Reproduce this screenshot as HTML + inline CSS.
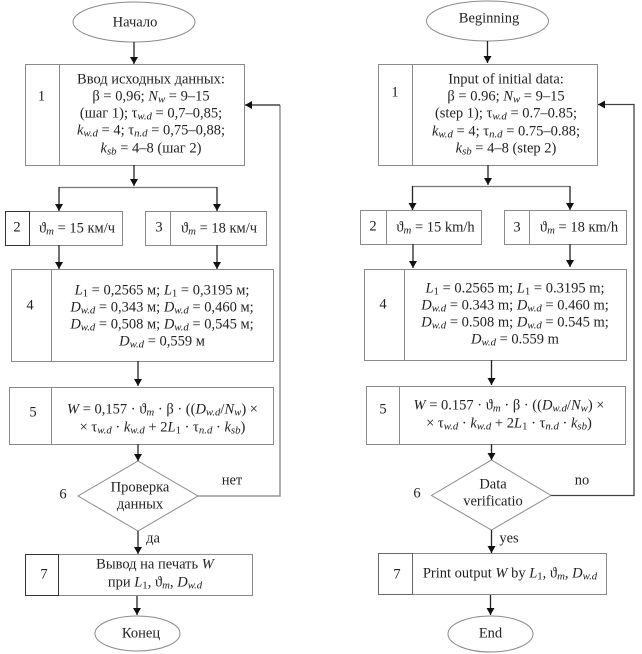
<!DOCTYPE html>
<html><head><meta charset="utf-8">
<style>
html,body{margin:0;padding:0;background:#fff}
#p{position:relative;width:642px;height:654px;overflow:hidden;background:#fff;font-family:"Liberation Serif",serif;font-size:14.5px;color:#222}
svg{position:absolute;left:0;top:0}
.t{position:absolute;transform:translate(-50%,-50%);white-space:nowrap;line-height:17px}
.t sub{font-size:10.8px;line-height:0;vertical-align:-2px;font-style:italic}
.t i{font-style:italic}
</style></head><body>
<div id="p">
<svg width="642" height="654" viewBox="0 0 642 654">
<defs>
<marker id="a" markerWidth="7" markerHeight="8" refX="7" refY="4" orient="auto" markerUnits="userSpaceOnUse"><path d="M0 0L7 4L0 8z" fill="#111"/></marker>
</defs>
<g fill="#fff" stroke="#8a8a8a" stroke-width="1">
<ellipse cx="134" cy="22" rx="61" ry="20"/>
<rect x="25.5" y="64.5" width="219" height="101"/><path d="M59.5 64.5V165.5"/>
<rect x="5.5" y="211.5" width="117" height="34"/>
<rect x="145.5" y="211.5" width="121" height="34"/><path d="M170.5 211.5V245.5"/>
<rect x="11.5" y="269.5" width="262" height="92"/><path d="M51.5 269.5V361.5"/>
<rect x="9.5" y="387.5" width="264" height="57"/><path d="M51.5 387.5V444.5"/>
<path d="M138 461L198 496L138 531L78 496z"/>
<rect x="25.5" y="554.5" width="227" height="41"/>
<ellipse cx="137.5" cy="633.5" rx="42.5" ry="17.5"/>

<ellipse cx="487.5" cy="21" rx="61" ry="20"/>
<rect x="378.5" y="64.5" width="219" height="101"/><path d="M412.5 64.5V165.5"/>
<rect x="360.5" y="210.5" width="121" height="34"/><path d="M386.5 210.5V244.5"/>
<rect x="504.5" y="210.5" width="122" height="34"/><path d="M529.5 210.5V244.5"/>
<rect x="364.5" y="269.5" width="262" height="91"/><path d="M404.5 269.5V360.5"/>
<rect x="366.5" y="386.5" width="259" height="58"/><path d="M399.5 386.5V444.5"/>
<path d="M491.5 460L551 495.5L491.5 530L431.5 495.5z"/>
<rect x="378.5" y="553.5" width="228" height="41"/>
<ellipse cx="490.5" cy="634" rx="42.5" ry="18"/>
</g>
<g fill="none" stroke="#333" stroke-width="1">
<rect x="5.5" y="211.5" width="24" height="34"/>
<rect x="25.5" y="554.5" width="33" height="41"/>
<path d="M378.5 553.5H412.5V594.5H378.5z" stroke="#666"/>
</g>
<g fill="none" stroke="#222" stroke-width="1.3">
<path d="M134 42V64" marker-end="url(#a)"/>
<path d="M134 165V186" marker-end="url(#a)"/>
<path d="M59 187.5H217" stroke="#777"/>
<path d="M59 187V211" marker-end="url(#a)"/>
<path d="M217 187V211" marker-end="url(#a)"/>
<path d="M59 245V269" marker-end="url(#a)"/>
<path d="M217 245V269" marker-end="url(#a)"/>
<path d="M138 361V386" marker-end="url(#a)"/>
<path d="M138 444V461" marker-end="url(#a)"/>
<path d="M138 531V554" marker-end="url(#a)"/>
<path d="M137 596V615" marker-end="url(#a)"/>
<path d="M198 496H280V105" stroke="#999" stroke-width="1.6"/>
<path d="M280 105H245" marker-end="url(#a)"/>

<path d="M487.5 41V63" marker-end="url(#a)"/>
<path d="M488 165V185" marker-end="url(#a)"/>
<path d="M412 186.5H570" stroke="#777"/>
<path d="M412.5 186V210" marker-end="url(#a)"/>
<path d="M570 186V210" marker-end="url(#a)"/>
<path d="M413 244V268" marker-end="url(#a)"/>
<path d="M570 244V267" marker-end="url(#a)"/>
<path d="M491.5 360V385" marker-end="url(#a)"/>
<path d="M491.5 444V460" marker-end="url(#a)"/>
<path d="M491.5 530V553" marker-end="url(#a)"/>
<path d="M490.5 595V615" marker-end="url(#a)"/>
<path d="M551 495.5H634V104.5H598" stroke="#444" marker-end="url(#a)"/>
</g>
</svg>

<div class="t" style="left:135px;top:23px">Начало</div>
<div class="t" style="left:41.5px;top:97px">1</div>
<div class="t" style="left:151px;top:80px">Ввод исходных данных:</div>
<div class="t" style="left:151px;top:97px">β = 0,96; <i>N<sub>w</sub></i> = 9–15</div>
<div class="t" style="left:151px;top:114px">(шаг 1); τ<sub>w.d</sub> = 0,7–0,85;</div>
<div class="t" style="left:151px;top:131px"><i>k<sub>w.d</sub></i> = 4; τ<sub>n.d</sub> = 0,75–0,88;</div>
<div class="t" style="left:151px;top:149px"><i>k<sub>sb</sub></i> = 4–8 (шаг 2)</div>
<div class="t" style="left:17px;top:228px">2</div>
<div class="t" style="left:77px;top:229px">ϑ<sub>m</sub> = 15 км/ч</div>
<div class="t" style="left:159px;top:228px">3</div>
<div class="t" style="left:219px;top:229px">ϑ<sub>m</sub> = 18 км/ч</div>
<div class="t" style="left:30px;top:306px">4</div>
<div class="t" style="left:162px;top:291px"><i>L</i><sub style="font-style:normal">1</sub> = 0,2565 м; <i>L</i><sub style="font-style:normal">1</sub> = 0,3195 м;</div>
<div class="t" style="left:162px;top:308px"><i>D<sub>w.d</sub></i> = 0,343 м; <i>D<sub>w.d</sub></i> = 0,460 м;</div>
<div class="t" style="left:162px;top:325px"><i>D<sub>w.d</sub></i> = 0,508 м; <i>D<sub>w.d</sub></i> = 0,545 м;</div>
<div class="t" style="left:162px;top:342px"><i>D<sub>w.d</sub></i> = 0,559 м</div>
<div class="t" style="left:33px;top:413px">5</div>
<div class="t" style="left:162.5px;top:410px"><i>W</i> = 0,157 · ϑ<sub>m</sub> · β · ((<i>D<sub>w.d</sub></i>/<i>N<sub>w</sub></i>) ×</div>
<div class="t" style="left:162.5px;top:428px">× τ<sub>w.d</sub> · <i>k<sub>w.d</sub></i> + 2<i>L</i><sub style="font-style:normal">1</sub> · τ<sub>n.d</sub> · <i>k<sub>sb</sub></i>)</div>
<div class="t" style="left:63px;top:495px">6</div>
<div class="t" style="left:140px;top:488px">Проверка</div>
<div class="t" style="left:140px;top:505px">данных</div>
<div class="t" style="left:232px;top:481px">нет</div>
<div class="t" style="left:153px;top:539px">да</div>
<div class="t" style="left:44px;top:575px">7</div>
<div class="t" style="left:155px;top:565px">Вывод на печать <i>W</i></div>
<div class="t" style="left:155px;top:583px">при <i>L</i><sub style="font-style:normal">1</sub>, ϑ<sub>m</sub>, <i>D<sub>w.d</sub></i></div>
<div class="t" style="left:141px;top:634px">Конец</div>

<div class="t" style="left:489px;top:19px">Beginning</div>
<div class="t" style="left:395px;top:93px">1</div>
<div class="t" style="left:506px;top:80px">Input of initial data:</div>
<div class="t" style="left:506px;top:97px">β = 0.96; <i>N<sub>w</sub></i> = 9–15</div>
<div class="t" style="left:506px;top:114px">(step 1); τ<sub>w.d</sub> = 0.7–0.85;</div>
<div class="t" style="left:506px;top:132px"><i>k<sub>w.d</sub></i> = 4; τ<sub>n.d</sub> = 0.75–0.88;</div>
<div class="t" style="left:506px;top:149px"><i>k<sub>sb</sub></i> = 4–8 (step 2)</div>
<div class="t" style="left:373px;top:227px">2</div>
<div class="t" style="left:435.5px;top:228px">ϑ<sub>m</sub> = 15 km/h</div>
<div class="t" style="left:517px;top:228px">3</div>
<div class="t" style="left:579px;top:228px">ϑ<sub>m</sub> = 18 кm/h</div>
<div class="t" style="left:383px;top:305px">4</div>
<div class="t" style="left:515px;top:289px"><i>L</i><sub style="font-style:normal">1</sub> = 0.2565 m; <i>L</i><sub style="font-style:normal">1</sub> = 0.3195 m;</div>
<div class="t" style="left:515px;top:306px"><i>D<sub>w.d</sub></i> = 0.343 m; <i>D<sub>w.d</sub></i> = 0.460 m;</div>
<div class="t" style="left:515px;top:323px"><i>D<sub>w.d</sub></i> = 0.508 m; <i>D<sub>w.d</sub></i> = 0.545 m;</div>
<div class="t" style="left:515px;top:340px"><i>D<sub>w.d</sub></i> = 0.559 m</div>
<div class="t" style="left:383px;top:410px">5</div>
<div class="t" style="left:509px;top:406px"><i>W</i> = 0.157 · ϑ<sub>m</sub> · β · ((<i>D<sub>w.d</sub></i>/<i>N<sub>w</sub></i>) ×</div>
<div class="t" style="left:509px;top:424px">× τ<sub>w.d</sub> · <i>k<sub>w.d</sub></i> + 2<i>L</i><sub style="font-style:normal">1</sub> · τ<sub>n.d</sub> · <i>k<sub>sb</sub></i>)</div>
<div class="t" style="left:417px;top:494px">6</div>
<div class="t" style="left:493px;top:485px">Data</div>
<div class="t" style="left:493px;top:502px">verificatio</div>
<div class="t" style="left:582px;top:481px">no</div>
<div class="t" style="left:509px;top:539px">yes</div>
<div class="t" style="left:397px;top:575px">7</div>
<div class="t" style="left:510px;top:574px">Print output <i>W</i> by <i>L</i><sub style="font-style:normal">1</sub>, ϑ<sub>m</sub>, <i>D<sub>w.d</sub></i></div>
<div class="t" style="left:490.5px;top:634px">End</div>
</div>
</body></html>
